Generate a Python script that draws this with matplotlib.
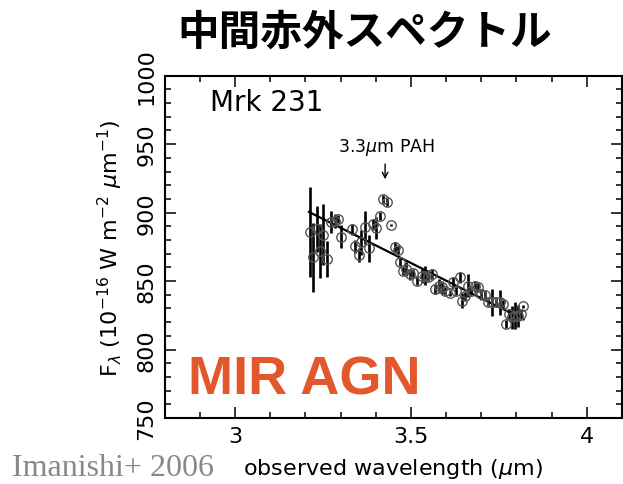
import matplotlib
matplotlib.use('Agg')
import matplotlib.pyplot as plt

# Mrk 231 の 3.3um 付近スペクトル
wave = [3.212, 3.222, 3.233, 3.242, 3.251, 3.261, 3.274, 3.285, 3.293, 3.302,
        3.331, 3.340, 3.352, 3.359, 3.369, 3.381, 3.392, 3.402, 3.411, 3.421,
        3.433, 3.442, 3.454, 3.463, 3.468, 3.478, 3.487, 3.497, 3.506, 3.518,
        3.530, 3.539, 3.549, 3.560, 3.568, 3.579, 3.589, 3.598, 3.610, 3.620,
        3.629, 3.639, 3.645, 3.655, 3.662, 3.672, 3.681, 3.691, 3.700, 3.710,
        3.719, 3.729, 3.743, 3.753, 3.762, 3.771, 3.779, 3.788, 3.795, 3.805,
        3.814, 3.819]
flux = [886.0, 867.3, 888.0, 872.0, 884.0, 866.0, 893.3, 894.0, 895.3, 882.3,
        888.0, 875.3, 869.0, 878.3, 889.2, 873.9, 891.6, 888.5, 897.7, 909.9,
        907.5, 890.9, 874.6, 872.9, 863.7, 857.5, 858.8, 855.1, 855.9, 850.2,
        853.9, 853.9, 852.7, 855.1, 844.2, 846.6, 845.4, 842.9, 841.3, 849.1,
        842.9, 852.7, 835.6, 839.3, 846.6, 842.9, 846.1, 845.4, 840.5, 839.8,
        834.5, 834.5, 834.5, 834.5, 833.2, 818.6, 825.9, 823.5, 824.7, 824.7,
        825.9, 831.5]
err = [33, 25, 17, 20, 22, 13, 8, 5, 3, 8.5,
       4, 5, 5, 9, 12, 10, 4, 8, 3, 3,
       3, 1, 4, 3, 3, 3, 5, 4, 3, 3,
       5, 7, 3, 4, 4, 5, 5, 3, 2, 4,
       3, 4, 5.5, 3, 8.5, 3, 4, 3, 4, 3,
       3, 10, 3, 9, 3, 3, 4, 8.5, 10, 8,
       3, 1]

# 連続光のフィット
line_x = [3.21, 3.82]
line_y = [900.5, 822.0]

xticks = [3, 3.5, 4]
xticklabels = ['3', '3.5', '4']
yticks = [750, 800, 850, 900, 950, 1000]

fig = plt.figure(figsize=(6.23, 4.85), dpi=100)
ax = fig.add_axes([0.2644, 0.1361, 0.734, 0.7058])

ax.plot(line_x, line_y, color='black', lw=1.6, zorder=2)
ax.errorbar(wave, flux, yerr=err, fmt='none', ecolor='black', elinewidth=1.9,
            capsize=0, zorder=3)
ax.plot(wave, flux, 'o', mfc='none', mec='#555555', mew=1.0, ms=6.8, zorder=4)

ax.set_xlim(2.8, 4.1)
ax.set_ylim(750, 1000)
ax.set_xticks(xticks)
ax.set_xticklabels(xticklabels)
ax.set_xticks([2.8 + 0.1 * i for i in range(14)], minor=True)
ax.set_yticks(yticks)
ax.set_yticks(list(range(750, 1001, 10)), minor=True)

for s in ax.spines.values():
    s.set_linewidth(1.5)
ax.tick_params(which='both', direction='in', top=True, right=True, width=1.1)
ax.tick_params(which='major', length=8, labelsize=16, pad=6)
ax.tick_params(which='minor', length=4.3)
for lab in ax.get_yticklabels():
    lab.set_rotation(90)
    lab.set_va('center')

ax.set_xlabel('observed wavelength ($\\mu$m)', fontsize=16, labelpad=7)
ax.set_ylabel('F$_\\lambda$ (10$^{-16}$ W m$^{-2}$ $\\mu$m$^{-1}$)', fontsize=16,
              labelpad=8)

ax.text(0.099, 0.924, 'Mrk 231', transform=ax.transAxes, fontsize=20,
        va='center', ha='left')
ax.text(3.429, 948.6, '3.3$\\mu$m PAH', fontsize=12.5, ha='center', va='center')
ax.annotate('', xy=(3.4265, 922.3), xytext=(3.4265, 937.5),
            arrowprops=dict(arrowstyle='->', color='black', lw=1.0))

fig.text(365 / 623, 1 - 33 / 485, '中間赤外スペクトル', ha='center', va='center',
         fontsize=30, fontweight='bold', family=['Noto Sans CJK JP', 'DejaVu Sans'])
fig.text(188 / 623, 1 - 395 / 485, 'MIR AGN', ha='left', va='baseline',
         fontsize=39, fontweight='bold', color='#E2572B', family='Liberation Sans')
fig.text(12 / 623, 1 - 476 / 485, 'Imanishi+ 2006', ha='left', va='baseline',
         fontsize=23, color='#888888', family='Liberation Serif')

fig.savefig('out.png', dpi=100)
